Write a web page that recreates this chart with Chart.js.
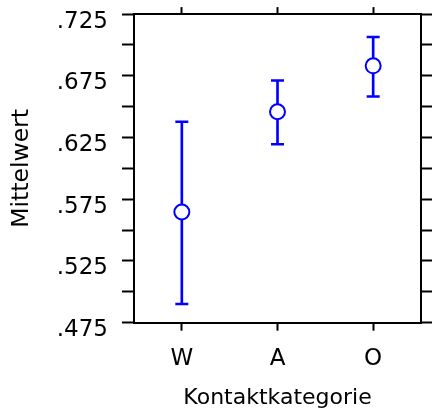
<!DOCTYPE html>
<html>
<head>
<meta charset="utf-8">
<script src="https://cdn.jsdelivr.net/npm/chart.js@4"></script>
<style>
html,body{margin:0;padding:0;background:#fff;}
#wrap{width:432px;height:412px;}
</style>
</head>
<body>
<div id="wrap"><canvas id="c" width="432" height="412"></canvas></div>
<script>
const categories = ['W', 'A', 'O'];
const means = [0.5647, 0.6459, 0.6831];
const upper = [0.6378, 0.6713, 0.7064];
const lower = [0.4901, 0.6195, 0.6583];
const yMin = 0.475, yMax = 0.725, yStep = 0.025;
const xTitle = 'Kontaktkategorie';
const yTitle = 'Mittelwert';

const BLUE = '#0000FF';
const FONT = 'DejaVu Sans';

const tickFmt = (v, i) => (i % 2 === 0 ? Number(v).toFixed(3).replace(/^0/, '') : '');

new Chart(document.getElementById('c'), {
  data: {
    labels: categories,
    datasets: [
      { type: 'bar', data: categories.map((c, i) => [lower[i], upper[i]]), backgroundColor: BLUE, borderWidth: 0, barThickness: 2, order: 3 },
      { type: 'line', data: lower, showLine: false, pointStyle: 'line', pointRadius: 6.5, pointBorderWidth: 2.5, pointBorderColor: BLUE, order: 2 },
      { type: 'line', data: upper, showLine: false, pointStyle: 'line', pointRadius: 6.5, pointBorderWidth: 2.5, pointBorderColor: BLUE, order: 2 },
      { type: 'line', data: means, showLine: false, pointStyle: 'circle', pointRadius: 7.5, pointBorderWidth: 2, pointBorderColor: BLUE, pointBackgroundColor: '#fff', order: 1 }
    ]
  },
  options: {
    responsive: false,
    animation: false,
    devicePixelRatio: 1,
    layout: { padding: 0 },
    plugins: { legend: { display: false }, tooltip: { enabled: false } },
    scales: {
      x: {
        type: 'category', position: 'bottom', offset: true,
        grid: { offset: false, drawOnChartArea: false, drawTicks: true, tickLength: 8, tickWidth: 2, tickColor: '#000' },
        border: { display: true, color: '#000', width: 2 },
        ticks: { color: '#000', font: { family: FONT, size: 23, lineHeight: 1 }, padding: 17, maxRotation: 0 },
        title: { display: true, text: xTitle, color: '#000', font: { family: FONT, size: 22, lineHeight: 1 }, padding: { top: 0, bottom: 3 } },
        afterFit: s => { s.height = 89.3; }
      },
      x2: {
        type: 'category', position: 'top', offset: true, labels: categories,
        grid: { offset: false, drawOnChartArea: false, drawTicks: true, tickLength: 7, tickWidth: 2, tickColor: '#000' },
        border: { display: true, color: '#000', width: 2 },
        ticks: { display: false },
        afterFit: s => { s.height = 14; }
      },
      y: {
        type: 'linear', position: 'left', min: yMin, max: yMax,
        grid: { drawOnChartArea: false, drawTicks: true, tickLength: 12, tickWidth: 2, tickColor: '#000' },
        border: { display: true, color: '#000', width: 2 },
        ticks: { stepSize: yStep, color: '#000', font: { family: FONT, size: 23, lineHeight: 0.01 }, padding: 14, labelOffset: 7.5, callback: tickFmt, autoSkip: false },
        title: { display: true, text: yTitle, color: '#000', font: { family: FONT, size: 23.5, lineHeight: 0.05 }, padding: { top: 21, bottom: 0 } },
        afterFit: s => { s.width = 134; }
      },
      y2: {
        type: 'linear', position: 'right', min: yMin, max: yMax,
        grid: { drawOnChartArea: false, drawTicks: true, tickLength: 11, tickWidth: 2, tickColor: '#000' },
        border: { display: true, color: '#000', width: 2 },
        ticks: { stepSize: yStep, display: false, autoSkip: false },
        afterFit: s => { s.width = 11; }
      }
    }
  }
});
</script>
</body>
</html>
